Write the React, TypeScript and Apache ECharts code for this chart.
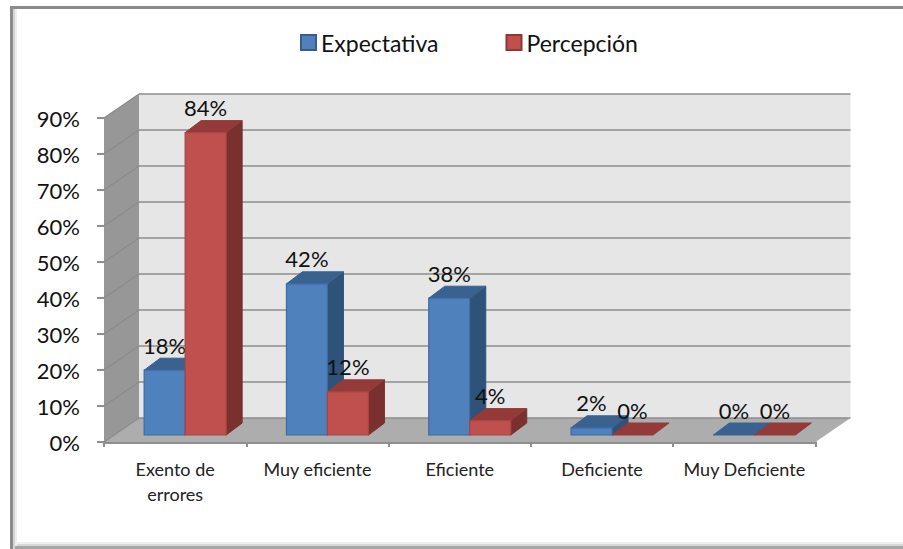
import React, { useEffect, useRef } from "react";
import * as echarts from "echarts";

const categories = ["Exento de\nerrores", "Muy eficiente", "Eficiente", "Deficiente", "Muy Deficiente"];
const expectativa = [18, 42, 38, 2, 0];
const percepcion = [84, 12, 4, 0, 0];
const ticks = [0, 10, 20, 30, 40, 50, 60, 70, 80, 90];

const FONT = "Lato, 'Open Sans', sans-serif";
const WALL_DX = 35;
const WALL_DY = 24;
const BAR_SHIFT_X = 10;
const BAR_SHIFT_Y = 7;
const BAR_W = 41;
const BAR_DX = 16;
const BAR_DY = 12;

function wallRender(params: any, api: any) {
  const cs = params.coordSys;
  const l = cs.x, r = cs.x + cs.width, t = cs.y, b = cs.y + cs.height;
  const poly = (pts: number[][], fill: string) => ({
    type: "polygon", shape: { points: pts }, style: { fill, stroke: "none" }, silent: true,
  });
  return {
    type: "group",
    children: [
      poly([[l + WALL_DX, t - WALL_DY], [r + WALL_DX, t - WALL_DY], [r + WALL_DX, b - WALL_DY], [l + WALL_DX, b - WALL_DY]], "#e6e6e6"),
      poly([[l, t], [l + WALL_DX, t - WALL_DY], [l + WALL_DX, b - WALL_DY], [l, b]], "#979797"),
      poly([[l, b], [l + WALL_DX, b - WALL_DY], [r + WALL_DX, b - WALL_DY], [r, b]], "#adadad"),
    ],
  };
}

function gridRender(params: any, api: any) {
  const cs = params.coordSys;
  const l = cs.x, r = cs.x + cs.width;
  const y = api.coord([0, api.value(0)])[1];
  const children: any[] = [];
  children.push({
    type: "line",
    shape: { x1: l, y1: y, x2: l + WALL_DX, y2: y - WALL_DY },
    style: { stroke: "#8a8a8a", lineWidth: 1.2 },
  });
  children.push({
    type: "line",
    shape: { x1: l + WALL_DX, y1: y - WALL_DY, x2: r + WALL_DX, y2: y - WALL_DY },
    style: { stroke: "#8c8c8c", lineWidth: 1.6 },
  });
  return { type: "group", children };
}

function barRender(slot: number, front: string, top: string, side: string, edge: string) {
  return (params: any, api: any) => {
    const idx = api.value(0);
    const val = api.value(1);
    const c = api.coord([idx, val]);
    const c0 = api.coord([idx, 0]);
    const x0 = c[0] - BAR_W + slot * BAR_W + BAR_SHIFT_X;
    const x1 = x0 + BAR_W;
    const yT = c[1] - BAR_SHIFT_Y;
    const yB = c0[1] - BAR_SHIFT_Y;
    const children: any[] = [];
    if (val > 0) {
      children.push({
        type: "polygon",
        shape: { points: [[x1, yT], [x1 + BAR_DX, yT - BAR_DY], [x1 + BAR_DX, yB - BAR_DY], [x1, yB]] },
        style: { fill: side, stroke: side, lineWidth: 1 },
      });
    }
    children.push({
      type: "polygon",
      shape: { points: [[x0, yT], [x0 + BAR_DX, yT - BAR_DY], [x1 + BAR_DX, yT - BAR_DY], [x1, yT]] },
      style: { fill: top, stroke: top, lineWidth: 1 },
    });
    if (val > 0) {
      children.push({
        type: "rect",
        shape: { x: x0, y: yT, width: BAR_W, height: yB - yT },
        style: { fill: front, stroke: edge, lineWidth: 1.2 },
      });
    }
    children.push({
      type: "text",
      style: {
        text: val + "%",
        x: x0 + BAR_W / 2,
        y: yT - 25,
        align: "center",
        verticalAlign: "middle",
        fontFamily: FONT,
        fontSize: 22,
        fill: "#111",
      },
    });
    return { type: "group", children };
  };
}

export default function App() {
  const ref = useRef<HTMLDivElement>(null);
  useEffect(() => {
    const chart = echarts.init(ref.current!, undefined, { renderer: "svg" });
    const frame = (x: number, y: number, width: number, height: number, fill: string) => ({
      type: "rect", silent: true, z: -1, shape: { x, y, width, height }, style: { fill },
    });
    chart.setOption({
      animation: false,
      backgroundColor: "#fff",
      graphic: [
        frame(10, 6, 893, 3, "#8c8c8c"),
        frame(10, 6, 3, 543, "#8c8c8c"),
        frame(13, 9, 2, 540, "#d4d4d4"),
        frame(15, 9, 2, 540, "#eeeeee"),
        frame(17, 542, 886, 2, "#f0f0f0"),
        frame(17, 544, 886, 2, "#d8d8d8"),
        frame(15, 546, 888, 3, "#a6a6a6"),
      ],
      legend: {
        left: 295,
        top: 26,
        itemWidth: 15,
        itemHeight: 15,
        itemGap: 67,
        selectedMode: false,
        textStyle: { fontFamily: FONT, fontSize: 23, color: "#111" },
        data: [
          { name: "Expectativa", icon: "rect", itemStyle: { color: "#4f81bd", borderColor: "#385d8a", borderWidth: 2 } },
          { name: "Percepción", icon: "rect", itemStyle: { color: "#c0504d", borderColor: "#8c3836", borderWidth: 2 } },
        ],
      },
      grid: { left: 104, top: 118, width: 711.5, height: 324, containLabel: false },
      xAxis: {
        type: "category",
        data: categories,
        axisLine: { show: true, lineStyle: { color: "#8f8f8f", width: 3 } },
        axisTick: { show: true, length: 5, lineStyle: { color: "#8f8f8f", width: 2 } },
        axisLabel: { interval: 0, fontFamily: FONT, fontSize: 18, color: "#222", lineHeight: 25, margin: 14 },
      },
      yAxis: {
        type: "value",
        min: 0,
        max: 90,
        interval: 10,
        axisLine: { show: false },
        axisTick: { show: true, length: 7, lineStyle: { color: "#8f8f8f", width: 2 } },
        splitLine: { show: false },
        axisLabel: { formatter: "{value}%", fontFamily: FONT, fontSize: 22, color: "#111", margin: 24 },
      },
      series: [
        {
          type: "custom",
          name: "walls",
          silent: true,
          clip: false,
          z: 1,
          renderItem: wallRender,
          data: [[0, 0]],
          encode: { x: 0, y: 1 },
        },
        {
          type: "custom",
          name: "grid",
          silent: true,
          clip: false,
          z: 2,
          renderItem: gridRender,
          data: ticks.map((t) => [t]),
          encode: { y: 0 },
        },
        {
          type: "custom",
          name: "Expectativa",
          clip: false,
          z: 3,
          itemStyle: { color: "#4f81bd" },
          renderItem: barRender(0, "#4f81bd", "#3a6290", "#2f5279", "#3d6ba3"),
          data: expectativa.map((v, i) => [i, v]),
          encode: { x: 0, y: 1 },
        },
        {
          type: "custom",
          name: "Percepción",
          clip: false,
          z: 4,
          itemStyle: { color: "#c0504d" },
          renderItem: barRender(1, "#c0504d", "#943a38", "#7a302e", "#a84442"),
          data: percepcion.map((v, i) => [i, v]),
          encode: { x: 0, y: 1 },
        },
      ],
    });
    return () => chart.dispose();
  }, []);
  return <div ref={ref} style={{ position: "fixed", left: 0, top: 0, width: 903, height: 549 }} />;
}
